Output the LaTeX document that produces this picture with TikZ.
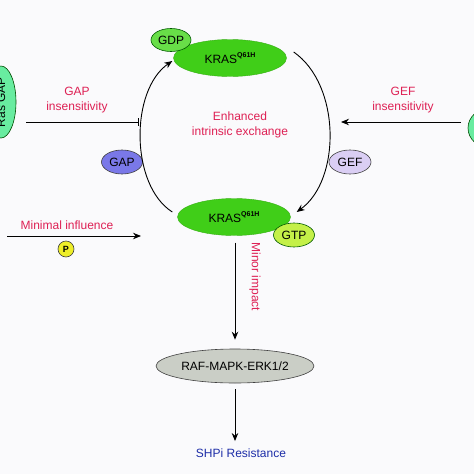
\documentclass[tikz,border=0pt]{standalone}
\usepackage{fontspec}
\setmainfont{Liberation Sans}
\usetikzlibrary{arrows.meta,shapes.geometric}

\definecolor{krasgreen}{RGB}{64,206,24}
\definecolor{gdpgreen}{RGB}{104,222,72}
\definecolor{gtpgreen}{RGB}{196,240,72}
\definecolor{gapblue}{RGB}{122,120,232}
\definecolor{geflilac}{RGB}{218,206,244}
\definecolor{rasaqua}{RGB}{104,236,160}
\definecolor{pyellow}{RGB}{238,238,40}
\definecolor{rafgray}{RGB}{202,206,198}
\definecolor{labelred}{RGB}{222,32,84}
\definecolor{labelblue}{RGB}{30,46,168}
\definecolor{bgwhite}{RGB}{250,250,252}

\newcommand{\krasq}{KRAS\raisebox{0.85ex}{\fontsize{7}{8}\selectfont\bfseries Q61H}}

\begin{document}
\begin{tikzpicture}[x=1pt,y=-1pt,font=\fontsize{12}{15.5}\selectfont,
	oval/.style={ellipse,draw=black!75,line width=0.6pt,inner sep=0pt},
	kras/.style={ellipse,fill=krasgreen,draw=krasgreen!85!black,line width=0.4pt,inner sep=0pt,minimum width=113pt,minimum height=37pt},
	redlabel/.style={text=labelred,align=center},
	arr/.style={-{Stealth[length=8pt,width=6.5pt]},line width=0.9pt},
	blk/.style={-{Bar[width=8pt]},line width=0.9pt}]
	\clip (0,0) rectangle (474,474);
	\fill[bgwhite] (0,0) rectangle (474,474);
	% KRAS cycle
	\node[kras] (ktop) at (230,58) {\krasq};
	\node[kras] (kbot) at (234,217) {\krasq};
	\node[oval,fill=gdpgreen,draw=green!35!black,minimum width=40pt,minimum height=23pt] (gdp) at (171,40) {GDP};
	\node[oval,fill=gtpgreen,draw=green!35!black,minimum width=41pt,minimum height=24pt] (gtp) at (294,235) {GTP};
	\node[oval,fill=gapblue,minimum width=41pt,minimum height=24pt] (gap) at (122,162) {GAP};
	\node[oval,fill=geflilac,minimum width=42pt,minimum height=24pt] (gef) at (350,162) {GEF};
	\draw[arr] ([xshift=-5pt,yshift=5pt]kbot.west) .. controls (130,185) and (130,90) .. ([xshift=-1pt,yshift=-3pt]ktop.west);
	\draw[arr] ([xshift=7pt,yshift=6pt]ktop.east) .. controls (341,85) and (341,180) .. ([xshift=6pt,yshift=5pt]kbot.east);
	\node[redlabel] (exch) at (240,125) {Enhanced\\intrinsic exchange};
	% side regulators
	\node[oval,fill=rasaqua,draw=green!30!black,rotate=90,minimum width=72pt,minimum height=30pt] (rasgap) at (1,102) {Ras GAP};
	\node[oval,fill=rasaqua,draw=green!30!black,minimum width=44pt,minimum height=40pt] (rasgef) at (490,128) {};
	\coordinate (gapfrom) at (26,122);
	\coordinate (gapto) at (139,122);
	\draw[blk] (gapfrom) -- (gapto);
	\node[redlabel] (gapins) at (77,100) {GAP\\insensitivity};
	\coordinate (geffrom) at (461,122);
	\coordinate (gefto) at (341,122);
	\draw[arr] (geffrom) -- (gefto);
	\node[redlabel] (gefins) at (403,100) {GEF\\insensitivity};
	\coordinate (pfrom) at (7,236);
	\coordinate (pto) at (141,236);
	\draw[arr] (pfrom) -- (pto);
	\node[redlabel] (minimal) at (67,225) {Minimal influence};
	\node[circle,draw=black!75,fill=pyellow,line width=0.6pt,inner sep=0pt,minimum size=16pt,font=\fontsize{9}{10}\selectfont\bfseries] (phos) at (66,249) {P};
	% downstream
	\node[oval,fill=rafgray,minimum width=158pt,minimum height=34pt] (raf) at (235,366) {RAF-MAPK-ERK1/2};
	\node[text=labelblue] (shpi) at (241,453) {SHPi Resistance};
	\draw[arr] ([xshift=1pt,yshift=-7pt]kbot.south) -- ([yshift=9pt]raf.north);
	\node[redlabel,rotate=-90] (minor) at (255,277) {Minor impact};
	\draw[arr] ([yshift=-6pt]raf.south) -- ([xshift=-6pt,yshift=4pt]shpi.north);
\end{tikzpicture}
\end{document}
